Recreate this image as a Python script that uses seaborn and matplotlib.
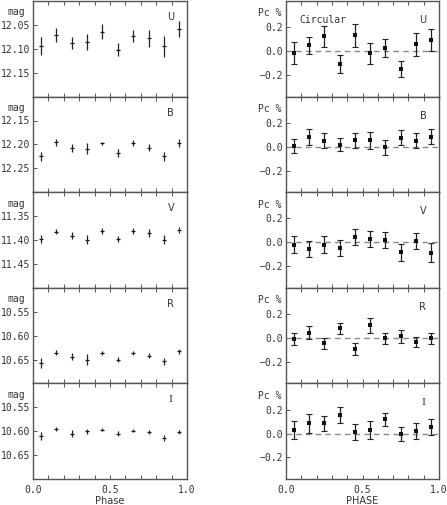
import numpy as np
import pandas as pd
import matplotlib
matplotlib.use("Agg")
import matplotlib.pyplot as plt
import seaborn as sns

# phase bins (centres)
phase = [0.05, 0.15, 0.25, 0.35, 0.45, 0.55, 0.65, 0.75, 0.85, 0.95]

# photometry (mag) and errors
mag_U = [12.095, 12.071, 12.088, 12.086, 12.064, 12.102, 12.074, 12.078, 12.095, 12.058]
err_U = [0.019, 0.014, 0.013, 0.017, 0.015, 0.014, 0.0125, 0.018, 0.022, 0.017]
mag_B = [12.225, 12.196, 12.207, 12.209, 12.198, 12.218, 12.197, 12.207, 12.225, 12.197]
err_B = [0.010, 0.007, 0.008, 0.012, 0.004, 0.008, 0.007, 0.007, 0.010, 0.008]
mag_V = [11.398, 11.383, 11.391, 11.399, 11.381, 11.398, 11.381, 11.385, 11.399, 11.379]
err_V = [0.0085, 0.005, 0.007, 0.009, 0.006, 0.0056, 0.006, 0.0077, 0.0085, 0.006]
mag_R = [10.657, 10.636, 10.644, 10.650, 10.636, 10.650, 10.637, 10.642, 10.654, 10.633]
err_R = [0.010, 0.0055, 0.007, 0.011, 0.0045, 0.005, 0.004, 0.0055, 0.008, 0.005]
mag_I = [10.610, 10.596, 10.605, 10.600, 10.597, 10.605, 10.599, 10.601, 10.614, 10.602]
err_I = [0.009, 0.0045, 0.007, 0.0055, 0.003, 0.005, 0.0035, 0.0045, 0.006, 0.004]

# circular polarization (%) and errors
pc_U = [-0.013, 0.048, 0.125, -0.104, 0.132, -0.017, 0.028, -0.149, 0.059, 0.096]
pe_U = [0.092, 0.073, 0.086, 0.076, 0.093, 0.087, 0.076, 0.068, 0.096, 0.093]
pc_B = [0.006, 0.082, 0.051, 0.017, 0.055, 0.054, -0.004, 0.077, 0.052, 0.085]
pe_B = [0.059, 0.068, 0.065, 0.056, 0.061, 0.073, 0.063, 0.063, 0.063, 0.065]
pc_V = [-0.019, -0.056, -0.019, -0.049, 0.046, 0.028, 0.018, -0.084, 0.010, -0.086]
pe_V = [0.070, 0.065, 0.070, 0.069, 0.066, 0.070, 0.066, 0.070, 0.066, 0.077]
pc_R = [-0.008, 0.045, -0.046, 0.080, -0.092, 0.106, -0.004, 0.013, -0.032, -0.004]
pe_R = [0.048, 0.056, 0.049, 0.049, 0.052, 0.061, 0.049, 0.052, 0.044, 0.046]
pc_I = [0.033, 0.086, 0.088, 0.153, 0.017, 0.033, 0.121, 0.000, 0.024, 0.056]
pe_I = [0.075, 0.081, 0.063, 0.067, 0.067, 0.075, 0.054, 0.059, 0.066, 0.070]

bands = ["U", "B", "V", "R", "I"]
mags = [mag_U, mag_B, mag_V, mag_R, mag_I]
mag_errs = [err_U, err_B, err_V, err_R, err_I]
pcs = [pc_U, pc_B, pc_V, pc_R, pc_I]
pc_errs = [pe_U, pe_B, pe_V, pe_R, pe_I]
mag_lims = [(12.20, 12.00), (12.30, 12.10), (11.50, 11.30), (10.70, 10.50), (10.70, 10.50)]
mag_ticks = [[12.05, 12.10, 12.15], [12.15, 12.20, 12.25], [11.35, 11.40, 11.45],
             [10.55, 10.60, 10.65], [10.55, 10.60, 10.65]]

sns.set_style("ticks")
plt.rcParams["font.family"] = ["DejaVu Sans Mono", "DejaVu Sans"]
plt.rcParams["axes.edgecolor"] = "#555555"
plt.rcParams["xtick.color"] = "#555555"
plt.rcParams["ytick.color"] = "#555555"

W, H = 447, 505
fig = plt.figure(figsize=(W / 100, H / 100), dpi=100)

top_px, bot_px = 1, 479
ph = (bot_px - top_px) / 5
txt = "#333333"
fs = 7


def style_axis(ax, last):
    ax.set_xlim(0, 1)
    ax.set_xticks(np.round(np.arange(0, 1.01, 0.1), 1))
    if last:
        ax.set_xticklabels(["0.0", "", "", "", "", "0.5", "", "", "", "", "1.0"],
                           fontsize=fs, color=txt)
    else:
        ax.set_xticklabels([])
    ax.tick_params(axis="x", direction="in", length=3, width=0.7, top=True, pad=4)
    ax.tick_params(axis="y", direction="in", length=3, width=0.7, pad=2,
                   labelsize=fs, labelcolor=txt)
    for s in ax.spines.values():
        s.set_linewidth(1.0)
    ax.set_xlabel("")
    ax.set_ylabel("")


for i, band in enumerate(bands):
    bottom = 1 - (top_px + (i + 1) * ph) / H
    height = ph / H
    last = i == len(bands) - 1
    lab_font = ["DejaVu Serif"] if band == "I" else ["DejaVu Sans"]

    # left: photometry
    axl = fig.add_axes([33 / W, bottom, 154 / W, height])
    df = pd.DataFrame({"phase": phase, "mag": mags[i], "err": mag_errs[i]})
    axl.errorbar(df["phase"], df["mag"], yerr=df["err"], fmt="none",
                 ecolor="#222222", elinewidth=0.9, capsize=0)
    sns.scatterplot(data=df, x="phase", y="mag", ax=axl, marker="_", s=6,
                    color="#111111", linewidth=0.9, legend=False)
    axl.set_ylim(*mag_lims[i])
    axl.set_yticks(mag_ticks[i])
    axl.set_yticklabels([f"{v:.2f}" for v in mag_ticks[i]])
    style_axis(axl, last)
    axl.text(-0.165, 0.88, "mag", transform=axl.transAxes, fontsize=fs, color=txt,
             ha="left", va="center")
    axl.text(0.895, 0.83, band, transform=axl.transAxes, fontsize=fs, color=txt,
             ha="center", va="center", family=lab_font)

    # right: circular polarization
    axr = fig.add_axes([286 / W, bottom, 153 / W, height])
    dp = pd.DataFrame({"phase": phase, "pc": pcs[i], "err": pc_errs[i]})
    axr.axhline(0, color="#888888", lw=1.0, ls=(0, (4, 3)), zorder=1)
    axr.errorbar(dp["phase"], dp["pc"], yerr=dp["err"], fmt="none",
                 ecolor="#222222", elinewidth=0.9, capsize=2.5, capthick=0.8)
    sns.scatterplot(data=dp, x="phase", y="pc", ax=axr, marker="s", s=5,
                    color="#111111", linewidth=0, legend=False, zorder=3)
    axr.set_ylim(-0.38, 0.42)
    axr.set_yticks([-0.2, 0.0, 0.2])
    axr.set_yticklabels(["\u22120.2", "0.0", "0.2"])
    style_axis(axr, last)
    axr.text(-0.185, 0.87, "Pc %", transform=axr.transAxes, fontsize=fs, color=txt,
             ha="left", va="center")
    axr.text(0.895, 0.80, band, transform=axr.transAxes, fontsize=fs, color=txt,
             ha="center", va="center", family=lab_font)
    if i == 0:
        axr.text(0.09, 0.80, "Circular", transform=axr.transAxes, fontsize=fs,
                 color=txt, ha="left", va="center")

    if last:
        axl.set_xlabel("Phase", fontsize=fs, color=txt, family="DejaVu Sans", labelpad=1)
        axr.set_xlabel("PHASE", fontsize=fs, color=txt, family="DejaVu Sans", labelpad=1)

fig.savefig("out.png", dpi=100)
